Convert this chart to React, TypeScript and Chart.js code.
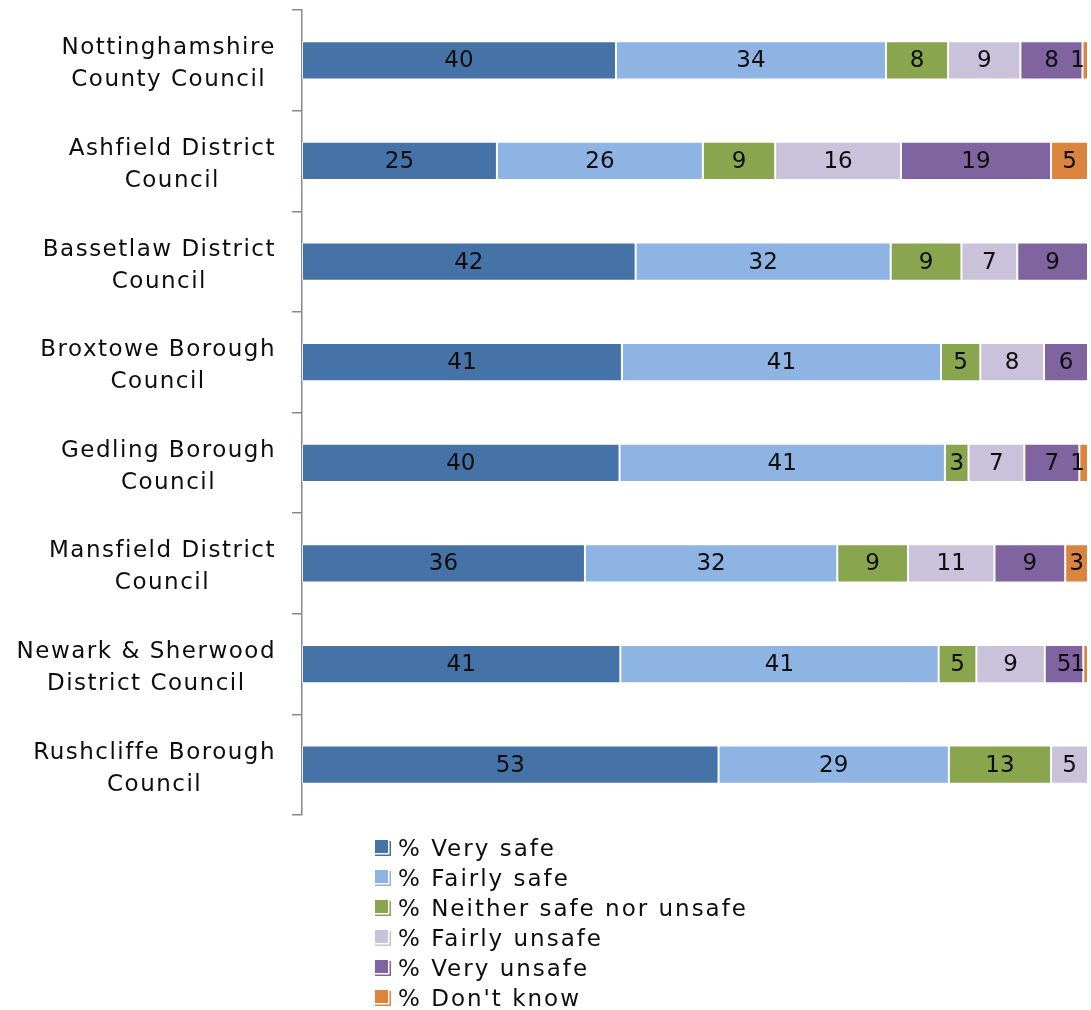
import React, { useEffect, useRef } from "react";
import { Chart, registerables } from "chart.js";

Chart.register(...registerables);

const categories: string[][] = [
  ["Nottinghamshire", "County Council"],
  ["Ashfield District", "Council"],
  ["Bassetlaw District", "Council"],
  ["Broxtowe Borough", "Council"],
  ["Gedling Borough", "Council"],
  ["Mansfield District", "Council"],
  ["Newark & Sherwood", "District Council"],
  ["Rushcliffe Borough", "Council"],
];

const seriesNames = [
  "% Very safe",
  "% Fairly safe",
  "% Neither safe nor unsafe",
  "% Fairly unsafe",
  "% Very unsafe",
  "% Don't know",
];

const verySafe = [39.95, 24.8, 42.45, 40.7, 40.4, 36.0, 40.5, 53.0];
const fairlySafe = [34.35, 26.2, 32.45, 40.6, 41.4, 32.1, 40.5, 29.3];
const neitherSafe = [7.9, 9.2, 9.0, 5.0, 3.0, 9.0, 4.8, 13.0];
const fairlyUnsafe = [9.2, 16.0, 7.1, 8.1, 7.1, 11.0, 8.7, 4.7];
const veryUnsafe = [7.9, 19.1, 9.0, 5.6, 7.0, 9.0, 4.9, 0];
const dontKnow = [0.7, 4.7, 0, 0, 1.1, 2.9, 0.6, 0];

const seriesValues = [verySafe, fairlySafe, neitherSafe, fairlyUnsafe, veryUnsafe, dontKnow];
const seriesColors = ["#4673A7", "#8EB4E3", "#89A54E", "#CAC1DB", "#80649F", "#DB843D"];

const FONT = "'DejaVu Sans', Verdana, sans-serif";

const labelsPlugin = {
  id: "customLabels",
  afterDatasetsDraw(chart: any) {
    const ctx = chart.ctx as CanvasRenderingContext2D;
    const area = chart.chartArea;
    ctx.save();
    ctx.font = `23px ${FONT}`;
    ctx.fillStyle = "#0d0d0d";
    ctx.textAlign = "center";
    ctx.textBaseline = "middle";
    chart.data.datasets.forEach((ds: any, di: number) => {
      const meta = chart.getDatasetMeta(di);
      meta.data.forEach((el: any, i: number) => {
        const v = ds.data[i];
        if (!v || v <= 0) return;
        const txt = String(Math.round(v));
        const w = ctx.measureText(txt).width;
        const c = el.getCenterPoint();
        let x = c.x;
        const maxX = area.right - w / 2 - 3;
        if (x > maxX) x = maxX;
        ctx.fillText(txt, x, c.y + 1);
      });
    });
    ctx.restore();
  },
  afterDraw(chart: any) {
    const ctx = chart.ctx as CanvasRenderingContext2D;
    const yScale = chart.scales.y;
    // category labels
    ctx.save();
    ctx.font = `23px ${FONT}`;
    (ctx as any).letterSpacing = "1.5px";
    ctx.fillStyle = "#0d0d0d";
    ctx.textAlign = "center";
    ctx.textBaseline = "alphabetic";
    const rightEdge = 276;
    categories.forEach((lines, i) => {
      const cy = yScale.getPixelForValue(i);
      const widths = lines.map((l) => ctx.measureText(l).width);
      const widest = Math.max(...widths);
      const cx = rightEdge - widest / 2;
      ctx.fillText(lines[0], cx, cy - 6);
      if (lines[1]) ctx.fillText(lines[1], cx, cy + 26);
    });
    ctx.restore();

    // legend
    ctx.save();
    ctx.font = `23px ${FONT}`;
    (ctx as any).letterSpacing = "2px";
    ctx.textAlign = "left";
    ctx.textBaseline = "alphabetic";
    seriesNames.forEach((name, i) => {
      const base = 856 + i * 30;
      const color = seriesColors[i];
      ctx.fillStyle = color;
      ctx.fillRect(375, base - 16, 13, 13);
      ctx.fillRect(389.5, base - 15, 1.5, 15);
      ctx.fillRect(375, base - 1.5, 16, 1.5);
      ctx.fillStyle = "#0d0d0d";
      ctx.fillText(name, 398, base);
    });
    ctx.restore();
  },
};

export default function App() {
  const canvasRef = useRef<HTMLCanvasElement | null>(null);

  useEffect(() => {
    if (!canvasRef.current) return;
    const chart = new Chart(canvasRef.current, {
      type: "bar",
      data: {
        labels: categories.map((c) => c.join(" ")),
        datasets: seriesNames.map((name, i) => ({
          label: name,
          data: seriesValues[i],
          backgroundColor: seriesColors[i],
          borderColor: "rgba(255,255,255,0.65)",
          borderWidth: 1,
          borderSkipped: false,
          barPercentage: 0.38,
          categoryPercentage: 1.0,
        })),
      },
      options: {
        indexAxis: "y",
        responsive: false,
        animation: false,
        layout: { padding: { left: 0, top: 10, right: 3, bottom: 195 } },
        plugins: {
          legend: { display: false },
          tooltip: { enabled: false },
        },
        scales: {
          x: {
            stacked: true,
            min: 0,
            max: 100,
            display: false,
          },
          y: {
            stacked: true,
            position: "left",
            grid: {
              display: true,
              drawOnChartArea: false,
              drawTicks: true,
              offset: true,
              tickLength: 10,
              color: "#888888",
              lineWidth: 1.5,
            },
            border: { display: true, color: "#888888", width: 1.5 },
            ticks: { display: false },
            afterFit: (scale: any) => {
              scale.width = 302;
            },
          },
        },
      } as any,
      plugins: [labelsPlugin],
    });
    return () => chart.destroy();
  }, []);

  return (
    <div style={{ position: "absolute", left: 0, top: 0, width: 1091, height: 1010, background: "#ffffff" }}>
      <canvas ref={canvasRef} width={1091} height={1010} />
    </div>
  );
}
